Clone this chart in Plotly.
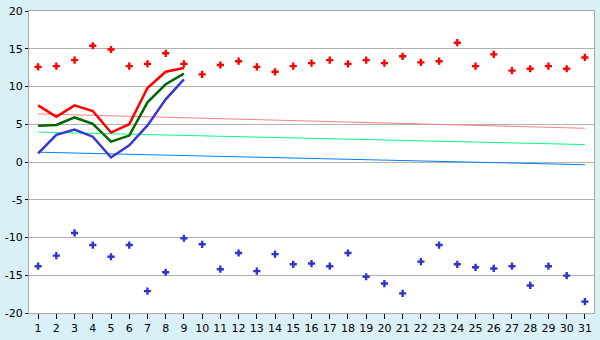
import plotly.graph_objects as go

days = list(range(1, 32))
red_points = [12.6, 12.7, 13.5, 15.4, 14.9, 12.7, 13.0, 14.4, 13.0, 11.6,
              12.85, 13.35, 12.6, 11.95, 12.7, 13.1, 13.5, 13.0, 13.5, 13.1,
              14.0, 13.2, 13.35, 15.8, 12.7, 14.25, 12.1, 12.35, 12.7, 12.35, 13.85]
blue_points = [-13.8, -12.4, -9.4, -11.0, -12.55, -11.0, -17.1, -14.6, -10.1, -10.9,
               -14.2, -12.05, -14.45, -12.2, -13.55, -13.45, -13.8, -12.05, -15.2, -16.1,
               -17.4, -13.2, -11.0, -13.55, -13.95, -14.1, -13.8, -16.35, -13.8, -15.05, -18.5]
line_days = list(range(1, 10))
red_line = [7.5, 6.0, 7.5, 6.75, 3.9, 5.0, 9.8, 11.95, 12.45]
green_line = [4.8, 4.9, 5.9, 5.05, 2.7, 3.5, 7.9, 10.3, 11.7]
blue_line = [1.15, 3.6, 4.3, 3.35, 0.6, 2.2, 4.85, 8.3, 10.95]
trend_days = [1, 31]
trend_red = [6.37, 4.47]
trend_green = [3.96, 2.31]
trend_blue = [1.3, -0.36]
y_ticks = [-20, -15, -10, -5, 0, 5, 10, 15, 20]

fig = go.Figure()
fig.add_trace(go.Scatter(x=trend_days, y=trend_red, mode="lines",
                         line=dict(color="#FF8080", width=1)))
fig.add_trace(go.Scatter(x=trend_days, y=trend_green, mode="lines",
                         line=dict(color="#00FF80", width=1)))
fig.add_trace(go.Scatter(x=trend_days, y=trend_blue, mode="lines",
                         line=dict(color="#0080FF", width=1)))
fig.add_trace(go.Scatter(x=line_days, y=red_line, mode="lines",
                         line=dict(color="#FF0000", width=2.5)))
fig.add_trace(go.Scatter(x=line_days, y=green_line, mode="lines",
                         line=dict(color="#006600", width=2.5)))
fig.add_trace(go.Scatter(x=line_days, y=blue_line, mode="lines",
                         line=dict(color="#3838D0", width=2.5)))
fig.add_trace(go.Scatter(x=days, y=red_points, mode="markers",
                         marker=dict(symbol="cross", size=6, color="#FF0000",
                                     line=dict(width=0))))
fig.add_trace(go.Scatter(x=days, y=blue_points, mode="markers",
                         marker=dict(symbol="cross", size=6, color="#3333CC",
                                     line=dict(width=0))))

fig.update_layout(
    width=600, height=340,
    margin=dict(l=26, r=5, t=5, b=20),
    paper_bgcolor="#DAF0F7",
    plot_bgcolor="#FFFFFF",
    showlegend=False,
    font=dict(family="DejaVu Sans", size=11, color="#000000"),
    xaxis=dict(range=[0.5, 31.5], tickmode="array", tickvals=days,
               ticktext=[str(d) for d in days],
               showgrid=False, zeroline=False,
               showline=True, linecolor="#A8A8A8", linewidth=1, mirror=True,
               ticks="outside", ticklen=5, tickcolor="#000000", tickwidth=1,
               ticklabeloverflow="allow"),
    yaxis=dict(range=[-20, 20], tickmode="array", tickvals=y_ticks,
               ticktext=[str(v) for v in y_ticks],
               showgrid=True, gridcolor="#B0B0B0",
               gridwidth=1, zeroline=False,
               showline=True, linecolor="#A8A8A8", linewidth=1, mirror=True,
               ticks="outside", ticklen=3, tickcolor="#000000", tickwidth=1,
               ticklabeloverflow="allow"),
)

fig.write_html("out.html")
